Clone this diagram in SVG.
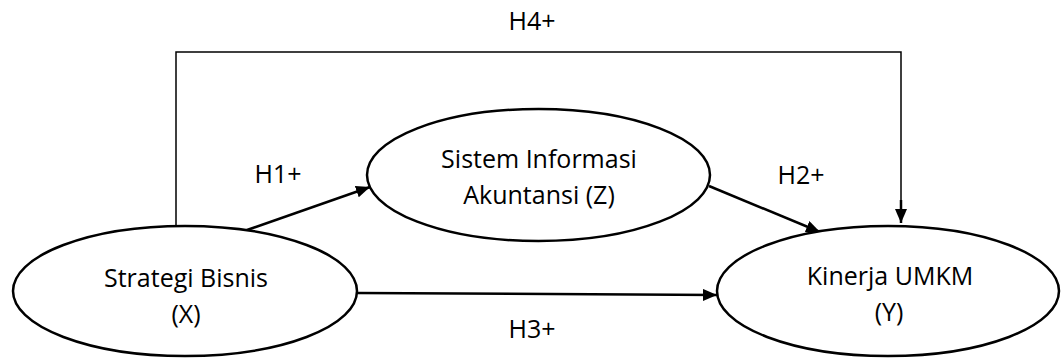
<svg xmlns="http://www.w3.org/2000/svg" width="1061" height="360" viewBox="0 0 1061 360">
<style>
.node{fill:#fff;stroke:#000;stroke-width:2.5}
.lbl{font-family:"Open Sans","Liberation Sans",sans-serif;font-size:25px;fill:#000;text-anchor:middle}
.edge{fill:none;stroke:#000;stroke-width:2.5}
.thin{fill:none;stroke:#000;stroke-width:1.5}
</style>
<defs>
<marker id="arr" viewBox="0 0 14 12" refX="14" refY="6" markerWidth="14" markerHeight="12" markerUnits="userSpaceOnUse" orient="auto">
<path d="M0,0 L14,6 L0,12 Z" fill="#000"/>
</marker>
</defs>
<g id="connectors">
<polyline class="thin" points="176,226 176,52 901,52 901,210"/>
<line class="edge" x1="901" y1="200" x2="901" y2="223" marker-end="url(#arr)"/>
<line class="edge" x1="247" y1="230" x2="370" y2="187" marker-end="url(#arr)"/>
<line class="edge" x1="709" y1="186" x2="820" y2="232" marker-end="url(#arr)"/>
<line class="edge" x1="357" y1="293" x2="717" y2="295" marker-end="url(#arr)"/>
<text class="lbl" x="532" y="30">H4+</text>
<text class="lbl" x="278" y="183">H1+</text>
<text class="lbl" x="801" y="184">H2+</text>
<text class="lbl" x="532" y="338">H3+</text>
</g>
<g id="node-x">
<ellipse class="node" cx="185" cy="291" rx="172" ry="65"/>
<text class="lbl" x="186" y="287">Strategi Bisnis</text>
<text class="lbl" x="186" y="323">(X)</text>
</g>
<g id="node-z">
<ellipse class="node" cx="538.5" cy="175" rx="171.5" ry="66"/>
<text class="lbl" x="539" y="168">Sistem Informasi</text>
<text class="lbl" x="539" y="204">Akuntansi (Z)</text>
</g>
<g id="node-y">
<ellipse class="node" cx="888" cy="291" rx="171" ry="65"/>
<text class="lbl" x="890" y="285">Kinerja UMKM</text>
<text class="lbl" x="889" y="321">(Y)</text>
</g>
</svg>
